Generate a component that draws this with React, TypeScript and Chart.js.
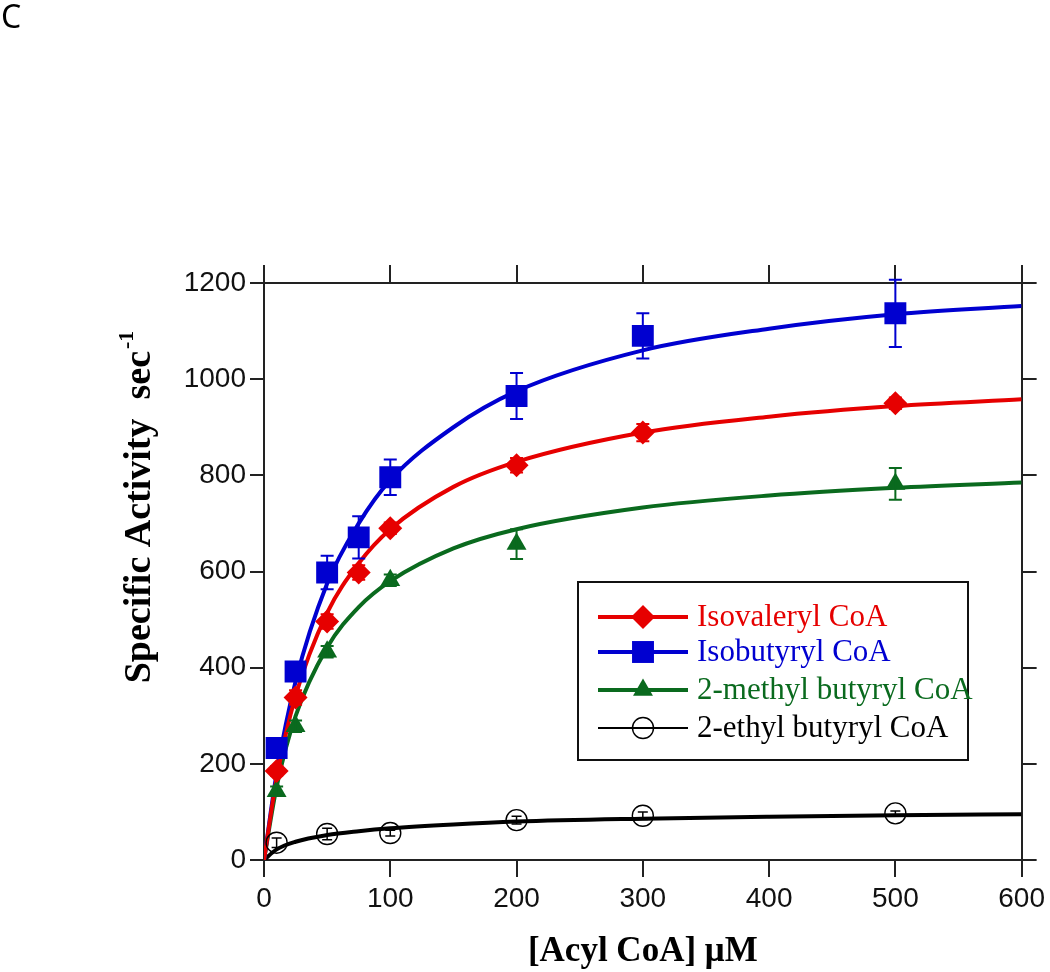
import React, { useEffect, useRef } from 'react';
import { Chart, registerables } from 'chart.js';

Chart.register(...registerables);

// ---------- data ----------
const panelLetter = 'C';
const xTitle = '[Acyl CoA] \u03bcM';
const yTitleMain = 'Specific Activity  sec';
const yTitleSup = '-1';
const xTicks = [0, 100, 200, 300, 400, 500, 600];
const yTicks = [0, 200, 400, 600, 800, 1000, 1200];

const seriesNames = ['Isovaleryl CoA', 'Isobutyryl CoA', '2-methyl butyryl CoA', '2-ethyl butyryl CoA'];
const seriesColors = ['#e60000', '#0000d0', '#0a6a1e', '#000000'];

const isovalerylX = [10, 25, 50, 75, 100, 200, 300, 500];
const isovalerylValues = [185, 338, 496, 598, 690, 821, 889, 950];
const isovalerylErrors = [10, 15, 15, 15, 12, 15, 18, 12];

const isobutyrylX = [10, 25, 50, 75, 100, 200, 300, 500];
const isobutyrylValues = [233, 392, 598, 671, 796, 965, 1090, 1137];
const isobutyrylErrors = [12, 15, 35, 44, 37, 48, 47, 70];

const methylX = [10, 25, 50, 100, 200, 500];
const methylValues = [143, 278, 433, 582, 657, 782];
const methylErrors = [10, 12, 12, 12, 31, 33];

const ethylX = [10, 50, 100, 200, 300, 500];
const ethylValues = [36, 54, 56, 83, 92, 97];
const ethylErrors = [10, 12, 6, 8, 8, 5];

// fitted curves
const fitX = [0, 10, 25, 50, 75, 100, 150, 200, 300, 400, 500, 600];
const isovalerylFit = [0, 170, 341, 514, 617, 688, 776, 828, 889, 922, 944, 958];
const isobutyrylFit = [0, 180, 371, 575, 700, 790, 900, 975, 1060, 1105, 1135, 1152];
const methylFit = [0, 152, 299, 442, 526, 580, 648, 688, 733, 758, 774, 785];
const ethylFit = [0, 22, 38, 52, 60, 66, 74, 80, 86, 90, 93, 95];

const pts = (xs: number[], ys: number[]) => xs.map((x, i) => ({ x, y: ys[i] }));

const markerStyles = ['rectRot', 'rect', 'triangle', 'circle'];
const markerRadii = [12, 15.5, 11.5, 10.5];

const errorBarPlugin = {
  id: 'errorBars',
  afterDatasetsDraw(chart: any) {
    const { ctx } = chart;
    const yScale = chart.scales.y;
    chart.data.datasets.forEach((ds: any, i: number) => {
      if (!ds.errors) return;
      const meta = chart.getDatasetMeta(i);
      ctx.save();
      ctx.strokeStyle = ds.borderColor;
      ctx.lineWidth = ds.errorWidth || 2;
      meta.data.forEach((el: any, j: number) => {
        const v = ds.data[j].y;
        const e = ds.errors[j];
        const x = el.x;
        const yt = yScale.getPixelForValue(v + e);
        const yb = yScale.getPixelForValue(v - e);
        const cap = ds.capHalf || 6;
        ctx.beginPath();
        ctx.moveTo(x, yt);
        ctx.lineTo(x, yb);
        ctx.moveTo(x - cap, yt);
        ctx.lineTo(x + cap, yt);
        ctx.moveTo(x - cap, yb);
        ctx.lineTo(x + cap, yb);
        ctx.stroke();
      });
      ctx.restore();
    });
  },
};

function drawMarker(ctx: CanvasRenderingContext2D, style: string, x: number, y: number, r: number, color: string) {
  ctx.save();
  ctx.fillStyle = color;
  ctx.strokeStyle = color;
  ctx.beginPath();
  if (style === 'rectRot') {
    ctx.moveTo(x, y - r);
    ctx.lineTo(x + r, y);
    ctx.lineTo(x, y + r);
    ctx.lineTo(x - r, y);
    ctx.closePath();
    ctx.fill();
  } else if (style === 'rect') {
    const s = r * Math.SQRT1_2;
    ctx.rect(x - s, y - s, 2 * s, 2 * s);
    ctx.fill();
  } else if (style === 'triangle') {
    ctx.moveTo(x, y - r);
    ctx.lineTo(x + r * 0.866, y + r * 0.5);
    ctx.lineTo(x - r * 0.866, y + r * 0.5);
    ctx.closePath();
    ctx.fill();
  } else {
    ctx.lineWidth = 1.4;
    ctx.arc(x, y, r, 0, Math.PI * 2);
    ctx.stroke();
  }
  ctx.restore();
}

const decorPlugin = {
  id: 'decor',
  afterDraw(chart: any) {
    const { ctx, chartArea: a } = chart;
    ctx.save();
    // panel letter
    ctx.fillStyle = '#000';
    ctx.font = '32px "Noto Sans", "Open Sans", sans-serif';
    ctx.textAlign = 'left';
    ctx.textBaseline = 'alphabetic';
    ctx.fillText(panelLetter, 1, 28);

    // x title
    ctx.font = 'bold 35px "Liberation Serif", serif';
    ctx.textAlign = 'center';
    ctx.fillText(xTitle, (a.left + a.right) / 2, 961);

    // y title (rotated)
    ctx.save();
    ctx.translate(150, 0);
    ctx.rotate(-Math.PI / 2);
    ctx.font = 'bold 38px "Liberation Serif", serif';
    const w1 = ctx.measureText(yTitleMain).width;
    ctx.font = 'bold 22px "Liberation Serif", serif';
    const w2 = ctx.measureText(yTitleSup).width;
    const center = 508;
    const start = -(center + (w1 + w2) / 2);
    ctx.textAlign = 'left';
    ctx.font = 'bold 38px "Liberation Serif", serif';
    ctx.fillText(yTitleMain, start, 0);
    ctx.font = 'bold 22px "Liberation Serif", serif';
    ctx.fillText(yTitleSup, start + w1 + 2, -17);
    ctx.restore();

    // legend
    const bx = a.left + 314;
    const by = a.top + 299;
    const bw = 390;
    const bh = 178;
    ctx.fillStyle = '#ffffff';
    ctx.fillRect(bx, by, bw, bh);
    ctx.strokeStyle = '#111';
    ctx.lineWidth = 2;
    ctx.strokeRect(bx, by, bw, bh);
    const rowY = [35, 70, 108, 146];
    seriesNames.forEach((name, i) => {
      const y = by + rowY[i];
      ctx.strokeStyle = seriesColors[i];
      ctx.lineWidth = i === 3 ? 2 : 4;
      ctx.beginPath();
      ctx.moveTo(bx + 20, y);
      ctx.lineTo(bx + 110, y);
      ctx.stroke();
      drawMarker(ctx, markerStyles[i], bx + 65, y, markerRadii[i], seriesColors[i]);
      ctx.fillStyle = seriesColors[i];
      ctx.font = '31px "Liberation Serif", serif';
      ctx.textAlign = 'left';
      ctx.textBaseline = 'middle';
      ctx.fillText(name, bx + 119, y + 1);
    });
    ctx.restore();
  },
};

export default function App() {
  const ref = useRef<HTMLCanvasElement | null>(null);

  useEffect(() => {
    if (!ref.current) return;
    const markerData = [
      [isovalerylX, isovalerylValues, isovalerylErrors],
      [isobutyrylX, isobutyrylValues, isobutyrylErrors],
      [methylX, methylValues, methylErrors],
      [ethylX, ethylValues, ethylErrors],
    ];
    const fits = [isovalerylFit, isobutyrylFit, methylFit, ethylFit];

    const datasets: any[] = [];
    markerData.forEach((m, i) => {
      datasets.push({
        label: seriesNames[i],
        data: pts(m[0], m[1]),
        errors: m[2],
        showLine: false,
        pointStyle: markerStyles[i],
        pointRadius: markerRadii[i],
        pointBackgroundColor: i === 3 ? 'rgba(0,0,0,0)' : seriesColors[i],
        pointBorderColor: seriesColors[i],
        pointBorderWidth: i === 3 ? 1.4 : 0,
        borderColor: seriesColors[i],
        backgroundColor: seriesColors[i],
        errorWidth: i === 3 ? 1.5 : 2,
        capHalf: i === 3 ? 5 : 6.5,
        order: 0,
      });
    });
    fits.forEach((f, i) => {
      datasets.push({
        label: seriesNames[i] + ' fit',
        data: pts(fitX, f),
        showLine: true,
        pointRadius: 0,
        borderColor: seriesColors[i],
        borderWidth: 4,
        cubicInterpolationMode: 'monotone',
        fill: false,
        order: 1,
      });
    });

    const axisColor = '#222';
    const tickFont = { family: '"Liberation Sans", Arial, sans-serif', size: 28 };
    const plain = (v: any) => String(v);

    const chart = new Chart(ref.current, {
      type: 'scatter',
      data: { datasets },
      options: {
        responsive: false,
        animation: false,
        events: [],
        layout: { padding: 0 },
        plugins: { legend: { display: false }, tooltip: { enabled: false }, title: { display: false } },
        scales: {
          x: {
            type: 'linear',
            position: 'bottom',
            min: xTicks[0],
            max: xTicks[xTicks.length - 1],
            afterBuildTicks: (s: any) => { s.ticks = xTicks.map((v) => ({ value: v })); },
            afterFit: (s: any) => { s.height = 112; },
            ticks: { font: tickFont, color: '#111', padding: 5, maxRotation: 0, callback: plain },
            grid: { drawOnChartArea: false, drawTicks: true, tickLength: 17, color: axisColor, lineWidth: 2 },
            border: { display: true, color: axisColor, width: 2 },
          },
          x2: {
            type: 'linear',
            position: 'top',
            min: xTicks[0],
            max: xTicks[xTicks.length - 1],
            afterBuildTicks: (s: any) => { s.ticks = xTicks.map((v) => ({ value: v })); },
            afterFit: (s: any) => { s.height = 283; },
            ticks: { display: false },
            grid: { drawOnChartArea: false, drawTicks: true, tickLength: 18, color: axisColor, lineWidth: 2 },
            border: { display: true, color: axisColor, width: 2 },
          },
          y: {
            type: 'linear',
            position: 'left',
            min: yTicks[0],
            max: yTicks[yTicks.length - 1],
            afterBuildTicks: (s: any) => { s.ticks = yTicks.map((v) => ({ value: v })); },
            afterFit: (s: any) => { s.width = 264; },
            ticks: { font: tickFont, color: '#111', padding: 4, callback: plain },
            grid: { drawOnChartArea: false, drawTicks: true, tickLength: 14, color: axisColor, lineWidth: 2 },
            border: { display: true, color: axisColor, width: 2 },
          },
          y2: {
            type: 'linear',
            position: 'right',
            min: yTicks[0],
            max: yTicks[yTicks.length - 1],
            afterBuildTicks: (s: any) => { s.ticks = yTicks.map((v) => ({ value: v })); },
            afterFit: (s: any) => { s.width = 25; },
            ticks: { display: false },
            grid: { drawOnChartArea: false, drawTicks: true, tickLength: 15, color: axisColor, lineWidth: 2 },
            border: { display: true, color: axisColor, width: 2 },
          },
        },
      },
      plugins: [errorBarPlugin, decorPlugin],
    } as any);

    return () => chart.destroy();
  }, []);

  return (
    <div style={{ position: 'fixed', left: 0, top: 0, width: 1050, height: 972, background: '#fff' }}>
      <canvas ref={ref} width={1050} height={972} style={{ width: 1050, height: 972, display: 'block' }} />
    </div>
  );
}
